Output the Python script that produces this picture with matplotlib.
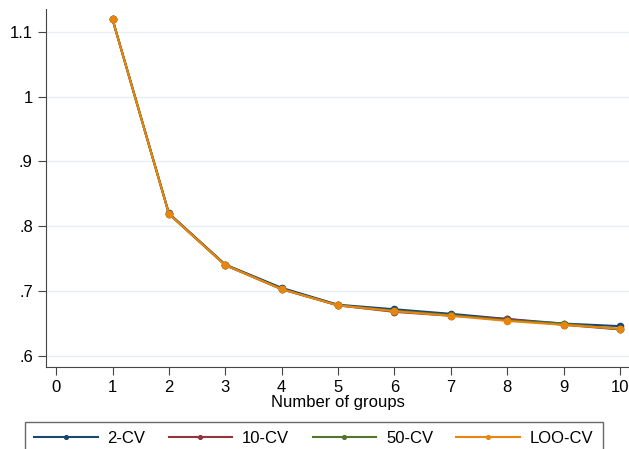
import matplotlib
matplotlib.use("Agg")
import matplotlib.pyplot as plt

plt.rcParams['font.family'] = ['Liberation Sans', 'DejaVu Sans']

groups = [1, 2, 3, 4, 5, 6, 7, 8, 9, 10]
cv2 = [1.119, 0.820, 0.741, 0.705, 0.679, 0.672, 0.665, 0.657, 0.650, 0.646]
cv10 = [1.119, 0.819, 0.740, 0.703, 0.678, 0.668, 0.662, 0.657, 0.648, 0.641]
cv50 = [1.119, 0.819, 0.740, 0.703, 0.678, 0.670, 0.663, 0.655, 0.650, 0.641]
loo = [1.119, 0.819, 0.740, 0.703, 0.678, 0.669, 0.662, 0.654, 0.648, 0.642]

labels = ['2-CV', '10-CV', '50-CV', 'LOO-CV']
colors = ['#1a476f', '#90353b', '#55752f', '#e8850c']
xticks = list(range(0, 11))
yticks = [0.6, 0.7, 0.8, 0.9, 1.0, 1.1]
yticklabels = ['.6', '.7', '.8', '.9', '1', '1.1']

fig = plt.figure(figsize=(6.29, 4.49), dpi=100)
ax = fig.add_axes([46 / 629, 82 / 449, 583 / 629, 358 / 449])

for series, lab, col in zip([cv2, cv10, cv50, loo], labels, colors):
    ax.plot(groups, series, color=col, lw=1.5, marker='o', ms=4.5, label=lab)

ax.set_xlim(-0.18, 10.16)
ax.set_ylim(0.583, 1.135)
ax.set_xticks(xticks)
ax.set_yticks(yticks)
ax.set_yticklabels(yticklabels)
ax.tick_params(labelsize=12, length=6, color='#444444')
ax.grid(axis='y', color='#e6eff1', lw=1)
ax.set_axisbelow(True)
for s in ['top', 'right']:
    ax.spines[s].set_visible(False)
for s in ['left', 'bottom']:
    ax.spines[s].set_color('#444444')
ax.set_xlabel('Number of groups', fontsize=12, labelpad=0)

top = 1 - 422 / 449
leg = fig.legend(loc='upper left', bbox_to_anchor=(25 / 629, top),
                 ncol=4, fontsize=12, frameon=True, fancybox=False,
                 handlelength=3.8, handletextpad=0.6, columnspacing=1.4,
                 borderpad=0.55, markerscale=0.6, borderaxespad=0)
leg.get_frame().set_edgecolor('#444444')
leg.get_frame().set_linewidth(1)

fig.savefig('out.png', dpi=100)
